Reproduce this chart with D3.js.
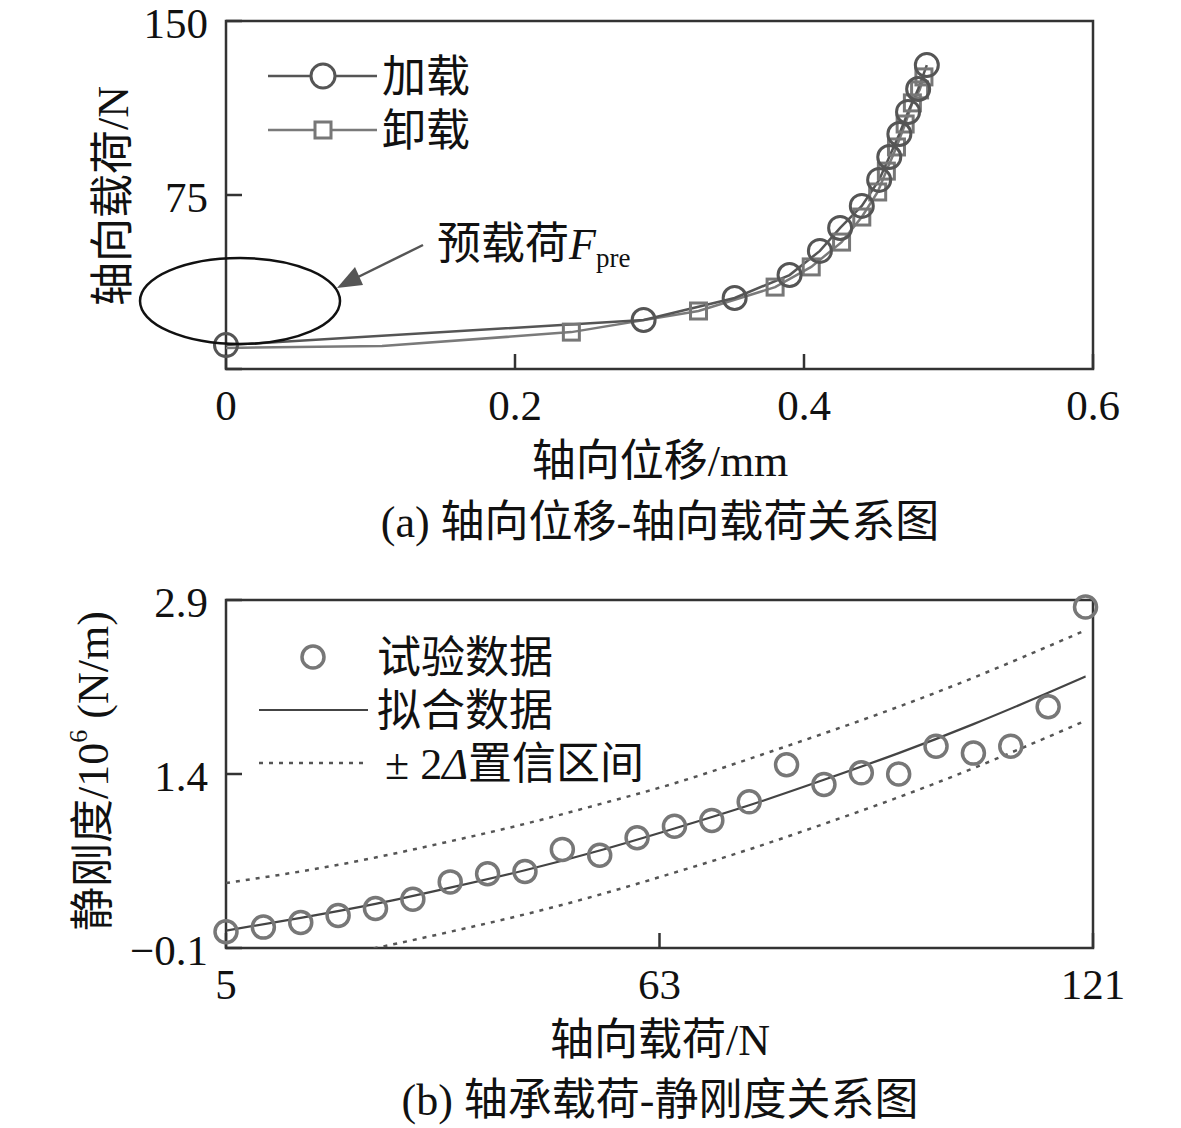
<!DOCTYPE html>
<html>
<head>
<meta charset="utf-8">
<script src="https://cdn.jsdelivr.net/npm/d3@7"></script>
<style>
  body { margin: 0; background: #fff; }
  text { font-family: "Liberation Serif", "Noto Sans CJK SC", serif; fill: #111; }
</style>
</head>
<body>
<div id="chart"></div>
<script>
// (a) displacement vs load
const loadX = [0, 0.289, 0.352, 0.390, 0.411, 0.425, 0.440, 0.452, 0.459, 0.466, 0.472, 0.479, 0.485];
const loadY = [10.3, 21.1, 30.6, 40.5, 50.9, 60.8, 70.3, 81.5, 91.4, 101.3, 110.8, 120.7, 131.0];
const unloadX = [0, 0.108, 0.239, 0.327, 0.380, 0.405, 0.426, 0.440, 0.451, 0.457, 0.464, 0.470, 0.475, 0.480, 0.483];
const unloadY = [9.1, 9.9, 15.9, 25.0, 35.3, 44.0, 54.7, 65.5, 76.3, 85.3, 95.7, 105.6, 114.7, 120.3, 125.9];
const topXTicks = [0, 0.2, 0.4, 0.6];
const topYTicks = [0, 75, 150];

// (b) load vs static stiffness
const stiffX = [5, 10, 15, 20, 25, 30, 35, 40, 45, 50, 55, 60, 65, 70, 75, 80, 85, 90, 95, 100, 105, 110, 115, 120];
const stiffY = [0.04, 0.08, 0.12, 0.18, 0.24, 0.32, 0.47, 0.54, 0.56, 0.75, 0.70, 0.85, 0.95, 1.00, 1.16, 1.48, 1.31, 1.41, 1.40, 1.64, 1.58, 1.64, 1.98, 2.84];
const fitX = [5, 15, 25, 35, 45, 55, 65, 75, 85, 95, 105, 115, 120];
const fitY = [0.05, 0.16, 0.28, 0.42, 0.57, 0.74, 0.93, 1.13, 1.35, 1.58, 1.83, 2.10, 2.24];
const upperY = [0.46, 0.56, 0.68, 0.82, 0.97, 1.14, 1.32, 1.53, 1.75, 1.98, 2.23, 2.50, 2.64];
const lowerY = [-0.33, -0.22, -0.10, 0.04, 0.19, 0.36, 0.55, 0.75, 0.97, 1.20, 1.45, 1.72, 1.86];
const botXTicks = [5, 63, 121];
const botYTicks = [-0.1, 1.4, 2.9];

const W = 1181, H = 1128;
const svg = d3.select("#chart").append("svg")
  .attr("width", W).attr("height", H);
svg.append("rect").attr("width", W).attr("height", H).attr("fill", "#fff");

const FS = 43;   // tick labels
const TS = 44;   // titles, legend

function frame(g, x, y, xTicks, yTicks, fmtY) {
  const [x0, x1] = x.range();
  const [y0, y1] = y.range();
  // inward ticks
  g.selectAll(".xt").data(xTicks).enter().append("line")
    .attr("x1", d => x(d)).attr("x2", d => x(d))
    .attr("y1", y0).attr("y2", y0 - 15)
    .attr("stroke", "#333").attr("stroke-width", 2.5);
  g.selectAll(".yt").data(yTicks).enter().append("line")
    .attr("x1", x0).attr("x2", x0 + 16)
    .attr("y1", d => y(d)).attr("y2", d => y(d))
    .attr("stroke", "#333").attr("stroke-width", 2.5);
  g.append("rect")
    .attr("x", x0).attr("y", y1)
    .attr("width", x1 - x0).attr("height", y0 - y1)
    .attr("fill", "none").attr("stroke", "#333").attr("stroke-width", 2.5);
  g.selectAll(".xl").data(xTicks).enter().append("text")
    .attr("x", d => x(d)).attr("y", y0 + 36)
    .attr("dominant-baseline", "central")
    .attr("text-anchor", "middle")
    .style("font-size", FS + "px")
    .text(d => d);
  g.selectAll(".yl").data(yTicks.filter(fmtY.filter)).enter().append("text")
    .attr("x", x0 - 18).attr("y", d => y(d) + 2)
    .attr("dominant-baseline", "central")
    .attr("text-anchor", "end")
    .style("font-size", FS + "px")
    .text(fmtY.f);
}

// ---------- (a) ----------
const xa = d3.scaleLinear().domain([0, 0.6]).range([226, 1093]);
const ya = d3.scaleLinear().domain([0, 150]).range([369, 21]);
const ga = svg.append("g");

frame(ga, xa, ya, topXTicks, topYTicks, { filter: d => d !== 0, f: d => d });

const lineA = d3.line().x(d => xa(d[0])).y(d => ya(d[1]));
const loadPts = loadX.map((v, i) => [v, loadY[i]]);
const unloadPts = unloadX.map((v, i) => [v, unloadY[i]]);

ga.append("path").datum(unloadPts).attr("d", lineA)
  .attr("fill", "none").attr("stroke", "#7a7a7a").attr("stroke-width", 2.5);
ga.append("path").datum(loadPts).attr("d", lineA)
  .attr("fill", "none").attr("stroke", "#555").attr("stroke-width", 2.5);

ga.selectAll(".sq").data(unloadPts.slice(2)).enter().append("rect")
  .attr("x", d => xa(d[0]) - 8).attr("y", d => ya(d[1]) - 8)
  .attr("width", 16).attr("height", 16)
  .attr("fill", "none").attr("stroke", "#777").attr("stroke-width", 3);
ga.selectAll(".ci").data(loadPts).enter().append("circle")
  .attr("cx", d => xa(d[0])).attr("cy", d => ya(d[1])).attr("r", 11.5)
  .attr("fill", "none").attr("stroke", "#555").attr("stroke-width", 3);

// legend (a)
ga.append("line").attr("x1", 268).attr("x2", 377).attr("y1", 76).attr("y2", 76)
  .attr("stroke", "#555").attr("stroke-width", 2.5);
ga.append("circle").attr("cx", 323).attr("cy", 76).attr("r", 12)
  .attr("fill", "#fff").attr("stroke", "#555").attr("stroke-width", 3);
ga.append("text").attr("x", 382).attr("y", 77).attr("dominant-baseline", "central")
  .style("font-size", TS + "px").text("加载");
ga.append("line").attr("x1", 268).attr("x2", 377).attr("y1", 130).attr("y2", 130)
  .attr("stroke", "#7a7a7a").attr("stroke-width", 2.5);
ga.append("rect").attr("x", 315).attr("y", 122).attr("width", 16).attr("height", 16)
  .attr("fill", "#fff").attr("stroke", "#777").attr("stroke-width", 3);
ga.append("text").attr("x", 382).attr("y", 131).attr("dominant-baseline", "central")
  .style("font-size", TS + "px").text("卸载");

// preload annotation
ga.append("ellipse")
  .attr("cx", xa(0.0097)).attr("cy", ya(29.3)).attr("rx", 100).attr("ry", 43)
  .attr("fill", "none").attr("stroke", "#111").attr("stroke-width", 2.5);
ga.append("line").attr("x1", 423).attr("y1", 245).attr("x2", 352).attr("y2", 280)
  .attr("stroke", "#555").attr("stroke-width", 2.5);
ga.append("path").attr("d", "M337,288 L355,267 L363,285 Z").attr("fill", "#555");
const ann = ga.append("text").attr("x", 437).attr("y", 244)
  .attr("dominant-baseline", "central").style("font-size", TS + "px");
ann.append("tspan").text("预载荷");
ann.append("tspan").style("font-style", "italic").text("F");
ann.append("tspan").attr("dy", 14).style("font-size", "27px").text("pre");

// axis titles (a)
ga.append("text").attr("transform", "translate(113,196) rotate(-90)")
  .attr("text-anchor", "middle").attr("dominant-baseline", "central")
  .style("font-size", TS + "px").text("轴向载荷/N");
ga.append("text").attr("x", 660).attr("y", 461)
  .attr("text-anchor", "middle").attr("dominant-baseline", "central")
  .style("font-size", TS + "px").text("轴向位移/mm");
ga.append("text").attr("x", 660).attr("y", 522)
  .attr("text-anchor", "middle").attr("dominant-baseline", "central")
  .style("font-size", TS + "px").text("(a) 轴向位移-轴向载荷关系图");

// ---------- (b) ----------
const xb = d3.scaleLinear().domain([5, 121]).range([226, 1093]);
const yb = d3.scaleLinear().domain([-0.1, 2.9]).range([948, 600]);
const gb = svg.append("g");

svg.append("clipPath").attr("id", "clipb").append("rect")
  .attr("x", 226).attr("y", 600).attr("width", 867).attr("height", 348);

frame(gb, xb, yb, botXTicks, botYTicks, { filter: () => true, f: d => d < 0 ? "\u2212" + Math.abs(d) : d });

const lineB = d3.line().x(d => xb(d[0])).y(d => yb(d[1])).curve(d3.curveNatural);
const band = gb.append("g").attr("clip-path", "url(#clipb)");
[upperY, lowerY].forEach(arr => {
  band.append("path").datum(fitX.map((v, i) => [v, arr[i]])).attr("d", lineB)
    .attr("fill", "none").attr("stroke", "#555").attr("stroke-width", 2.5)
    .attr("stroke-dasharray", "4,6");
});
band.append("path").datum(fitX.map((v, i) => [v, fitY[i]])).attr("d", lineB)
  .attr("fill", "none").attr("stroke", "#444").attr("stroke-width", 2.2);

gb.selectAll(".sc").data(stiffX.map((v, i) => [v, stiffY[i]])).enter().append("circle")
  .attr("cx", d => xb(d[0])).attr("cy", d => yb(d[1])).attr("r", 11)
  .attr("fill", "none").attr("stroke", "#777").attr("stroke-width", 3.5);

// legend (b)
gb.append("circle").attr("cx", 313).attr("cy", 657).attr("r", 11)
  .attr("fill", "none").attr("stroke", "#777").attr("stroke-width", 3.5);
gb.append("text").attr("x", 377).attr("y", 658).attr("dominant-baseline", "central")
  .style("font-size", TS + "px").text("试验数据");
gb.append("line").attr("x1", 259).attr("x2", 368).attr("y1", 710).attr("y2", 710)
  .attr("stroke", "#444").attr("stroke-width", 2.2);
gb.append("text").attr("x", 377).attr("y", 711).attr("dominant-baseline", "central")
  .style("font-size", TS + "px").text("拟合数据");
gb.append("line").attr("x1", 259).attr("x2", 363).attr("y1", 763).attr("y2", 763)
  .attr("stroke", "#555").attr("stroke-width", 2.5).attr("stroke-dasharray", "4,6");
const leg3 = gb.append("text").attr("x", 385).attr("y", 764)
  .attr("dominant-baseline", "central").style("font-size", TS + "px");
leg3.append("tspan").text("\u00b1 2");
leg3.append("tspan").style("font-style", "italic").text("\u0394");
leg3.append("tspan").text("置信区间");

// axis titles (b)
const yt = gb.append("text").attr("transform", "translate(93,771) rotate(-90)")
  .attr("text-anchor", "middle").attr("dominant-baseline", "central")
  .style("font-size", TS + "px");
yt.append("tspan").text("静刚度/10");
yt.append("tspan").attr("dy", -15).style("font-size", "26px").text("6");
yt.append("tspan").attr("dy", 15).text(" (N/m)");
gb.append("text").attr("x", 660).attr("y", 1040)
  .attr("text-anchor", "middle").attr("dominant-baseline", "central")
  .style("font-size", TS + "px").text("轴向载荷/N");
gb.append("text").attr("x", 660).attr("y", 1100)
  .attr("text-anchor", "middle").attr("dominant-baseline", "central")
  .style("font-size", TS + "px").text("(b) 轴承载荷-静刚度关系图");
</script>
</body>
</html>
